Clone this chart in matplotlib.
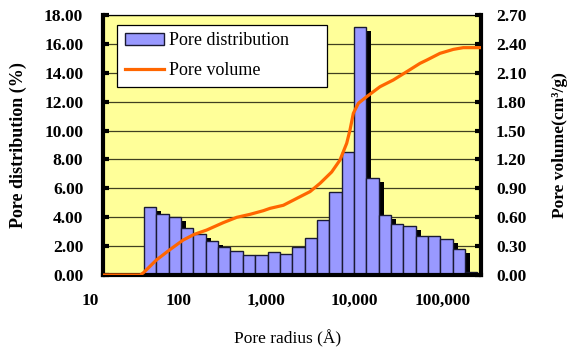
import numpy as np
import matplotlib
matplotlib.use("Agg")
import matplotlib.pyplot as plt
import matplotlib.patheffects as pe
from matplotlib.patches import Patch
from matplotlib.lines import Line2D
from matplotlib.ticker import FixedLocator, NullLocator
from matplotlib.transforms import ScaledTranslation

plt.rcParams['font.family'] = ['Liberation Serif', 'DejaVu Serif']

# --- data ---
# bin edges of the pore radius classes (Å)
bin_edges = [27.4, 37, 50, 67.6, 91.3, 123, 167, 225, 304, 411, 555, 750, 1013,
             1369, 1850, 2499, 3377, 4562, 6163, 8327, 11250, 15200, 20530,
             27740, 37480, 50630, 68400, 92420]
pore_dist = [4.72, 4.22, 4.0, 3.22, 2.83, 2.36, 1.97, 1.69, 1.42, 1.39, 1.6, 1.46,
             1.97, 2.55, 3.82, 5.78, 8.55, 17.2, 6.75, 4.16, 3.52, 3.4, 2.73,
             2.73, 2.48, 1.79, 0.24]

vol_radius = [10, 25, 27, 37, 52, 71, 93, 126, 189, 262, 362, 501, 589, 815,
              1225, 1563, 1995, 2650, 3243, 3820, 4140, 4490, 5070, 6220, 8590,
              11880, 16470, 22800, 27000, 37100, 51300, 65400, 100000]
pore_vol = [0, 0, 0.024, 0.156, 0.267, 0.363, 0.422, 0.467, 0.544, 0.599, 0.63,
            0.668, 0.692, 0.724, 0.813, 0.866, 0.952, 1.07, 1.194, 1.368, 1.506,
            1.679, 1.783, 1.852, 1.955, 2.025, 2.111, 2.198, 2.233, 2.302, 2.343,
            2.361, 2.361]

x_ticks = [10, 100, 1000, 10000, 100000]
x_labels = ['10', '100', '1,000', '10,000', '100,000']
left_ticks = np.arange(0, 18.01, 2)
right_ticks = np.arange(0, 2.701, 0.3)

bar_face = '#9999FF'
line_col = '#FF6600'

fig = plt.figure(figsize=(5.69, 3.49), dpi=100)
ax = fig.add_axes([0.1805, 0.212, 0.6643, 0.745])
ax.set_facecolor('#FFFF99')

edges = np.array(bin_edges)
shadow = [pe.SimplePatchShadow(offset=(3.6, -2.9), shadow_rgbFace='black', alpha=1.0),
          pe.Normal()]
bars = ax.bar(edges[:-1], pore_dist, width=np.diff(edges), align='edge',
              color=bar_face, edgecolor='#1a1a33', linewidth=1.0, zorder=2)
for b in bars:
    b.set_path_effects(shadow)

ax.set_xscale('log')
ax.set_xlim(10, 100000)
ax.set_ylim(0, 18)
ax.xaxis.set_major_locator(FixedLocator(x_ticks))
ax.xaxis.set_minor_locator(NullLocator())
ax.set_xticklabels(x_labels, fontsize=12.5, fontweight='bold')
ax.set_yticks(left_ticks)
ax.set_yticklabels(['%.2f' % v for v in left_ticks], fontsize=12.5, fontweight='bold')
ax.tick_params(axis='x', length=0, pad=13)
ax.tick_params(axis='y', direction='in', length=4, width=3, pad=14)
ax.yaxis.grid(True, color='#404020', linewidth=0.9, zorder=0)
ax.set_axisbelow(True)

# labels sit left of their ticks, as in the original sheet
for i, lab in enumerate(ax.get_xticklabels()):
    dx = (-12.7 - 6.25 * i) / 100.0
    lab.set_transform(lab.get_transform() + ScaledTranslation(dx, 0, fig.dpi_scale_trans))

for s in ['left', 'bottom']:
    ax.spines[s].set_linewidth(3)
ax.spines['top'].set_linewidth(0.9)
ax.spines['right'].set_visible(False)

ax2 = ax.twinx()
ax2.plot(vol_radius, pore_vol, color=line_col, linewidth=2.3, zorder=3)
ax2.set_ylim(0, 2.7)
ax2.set_yticks(right_ticks)
ax2.set_yticklabels(['%.2f' % v for v in right_ticks], fontsize=12.5, fontweight='bold')
ax2.tick_params(axis='y', direction='in', length=4, width=3, pad=11)
for s in ['left', 'bottom', 'top']:
    ax2.spines[s].set_visible(False)
ax2.spines['right'].set_linewidth(3)

ax.set_ylabel('Pore distribution (%)', fontsize=13, fontweight='bold')
ax.yaxis.set_label_coords(-0.2, 0.5)
ax2.set_ylabel('Pore volume(cm³/g)', fontsize=12.5, fontweight='bold')
ax2.yaxis.set_label_coords(1.188, 0.5)
ax.set_xlabel('Pore radius (Å)', fontsize=12.5)
ax.xaxis.set_label_coords(0.49, -0.212)

handles = [Patch(facecolor=bar_face, edgecolor='#1a1a33', linewidth=1.0),
           Line2D([0], [0], color=line_col, linewidth=2.3)]
leg = ax2.legend(handles, ['Pore distribution', 'Pore volume'],
                 loc='upper left', bbox_to_anchor=(0.038, 0.724, 0.556, 0.238),
                 mode='expand', borderaxespad=0, fancybox=False, framealpha=1,
                 edgecolor='black', fontsize=13, handlelength=2.2,
                 handletextpad=0.25, labelspacing=0.72, borderpad=0.42)
leg.get_frame().set_linewidth(0.9)

fig.savefig('out.png', dpi=100)
